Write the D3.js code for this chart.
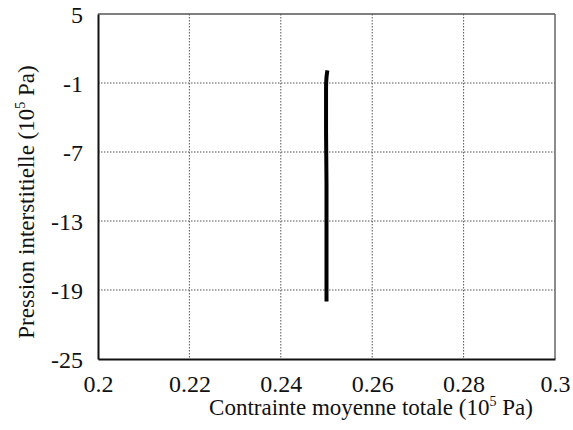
<!DOCTYPE html>
<html><head><meta charset="utf-8">
<script src="https://cdn.jsdelivr.net/npm/d3@7"></script>
</head><body style="margin:0">
<script>
const xTicks = [0.2, 0.22, 0.24, 0.26, 0.28, 0.3];
const yTicks = [5, -1, -7, -13, -19, -25];
const seriesX = [0.2502, 0.2500, 0.2499, 0.2499, 0.2500, 0.2500, 0.2500];
const seriesY = [0.1, -0.5, -1.5, -5, -10, -15, -20];

const W = 573, H = 430;
const m = {l: 98, r: 18, t: 14, b: 71};
const FONT = '"Liberation Serif"';
const svg = d3.select("body").append("svg").attr("width", W).attr("height", H).style("display", "block");
const x = d3.scaleLinear().domain([0.2, 0.3]).range([m.l, W - m.r]);
const y = d3.scaleLinear().domain([-25, 5]).range([H - m.b, m.t]);

// grid
svg.append("g").selectAll("line").data(xTicks.slice(1, -1)).join("line")
  .attr("x1", d => x(d)).attr("x2", d => x(d)).attr("y1", m.t).attr("y2", H - m.b)
  .attr("stroke", "#555").attr("stroke-width", 1).attr("stroke-dasharray", "1.5,1.5");
svg.append("g").selectAll("line").data(yTicks.slice(1, -1)).join("line")
  .attr("y1", d => y(d)).attr("y2", d => y(d)).attr("x1", m.l).attr("x2", W - m.r)
  .attr("stroke", "#555").attr("stroke-width", 1).attr("stroke-dasharray", "1.5,1.5");

// frame (top/right)
svg.append("line").attr("x1", m.l).attr("x2", W - m.r).attr("y1", m.t).attr("y2", m.t).attr("stroke", "#555").attr("stroke-width", 1.5);
svg.append("line").attr("x1", W - m.r).attr("x2", W - m.r).attr("y1", m.t).attr("y2", H - m.b).attr("stroke", "#666").attr("stroke-width", 1.5);

// axes
const gx = svg.append("g").attr("transform", `translate(0,${H - m.b})`)
  .call(d3.axisBottom(x).tickValues(xTicks).tickSize(0).tickPadding(16).tickFormat(d => String(+d.toFixed(2))));
gx.select(".domain").attr("stroke", "#111").attr("stroke-width", 2);
gx.selectAll("text").style("font-family", FONT).style("font-size", "24px").attr("fill", "#111");

const gy = svg.append("g").attr("transform", `translate(${m.l},0)`)
  .call(d3.axisLeft(y).tickValues(yTicks).tickSize(0).tickPadding(15).tickFormat(d => String(d)));
gy.select(".domain").attr("stroke", "#111").attr("stroke-width", 2);
gy.selectAll("text").style("font-family", FONT).style("font-size", "24px").attr("fill", "#111").attr("dy", "0.36em");

// series
const pts = seriesX.map((v, i) => [v, seriesY[i]]);
svg.append("path").datum(pts)
  .attr("d", d3.line().x(d => x(d[0])).y(d => y(d[1])).curve(d3.curveMonotoneY))
  .attr("fill", "none").attr("stroke", "#000").attr("stroke-width", 4);

// titles
const xt = svg.append("text").attr("x", 371).attr("y", 415).attr("text-anchor", "middle")
  .style("font-family", FONT).style("font-size", "23px").attr("fill", "#111");
xt.append("tspan").text("Contrainte moyenne totale (10");
xt.append("tspan").text("5").style("font-size", "14px").attr("dy", -9);
xt.append("tspan").text(" Pa)").attr("dy", 9);

const yt = svg.append("text").attr("transform", `translate(34,202) rotate(-90)`).attr("text-anchor", "middle")
  .style("font-family", FONT).style("font-size", "23px").attr("fill", "#111");
yt.append("tspan").text("Pression interstitielle (10");
yt.append("tspan").text("5").style("font-size", "14px").attr("dy", -9);
yt.append("tspan").text(" Pa)").attr("dy", 9);
</script>
</body></html>
